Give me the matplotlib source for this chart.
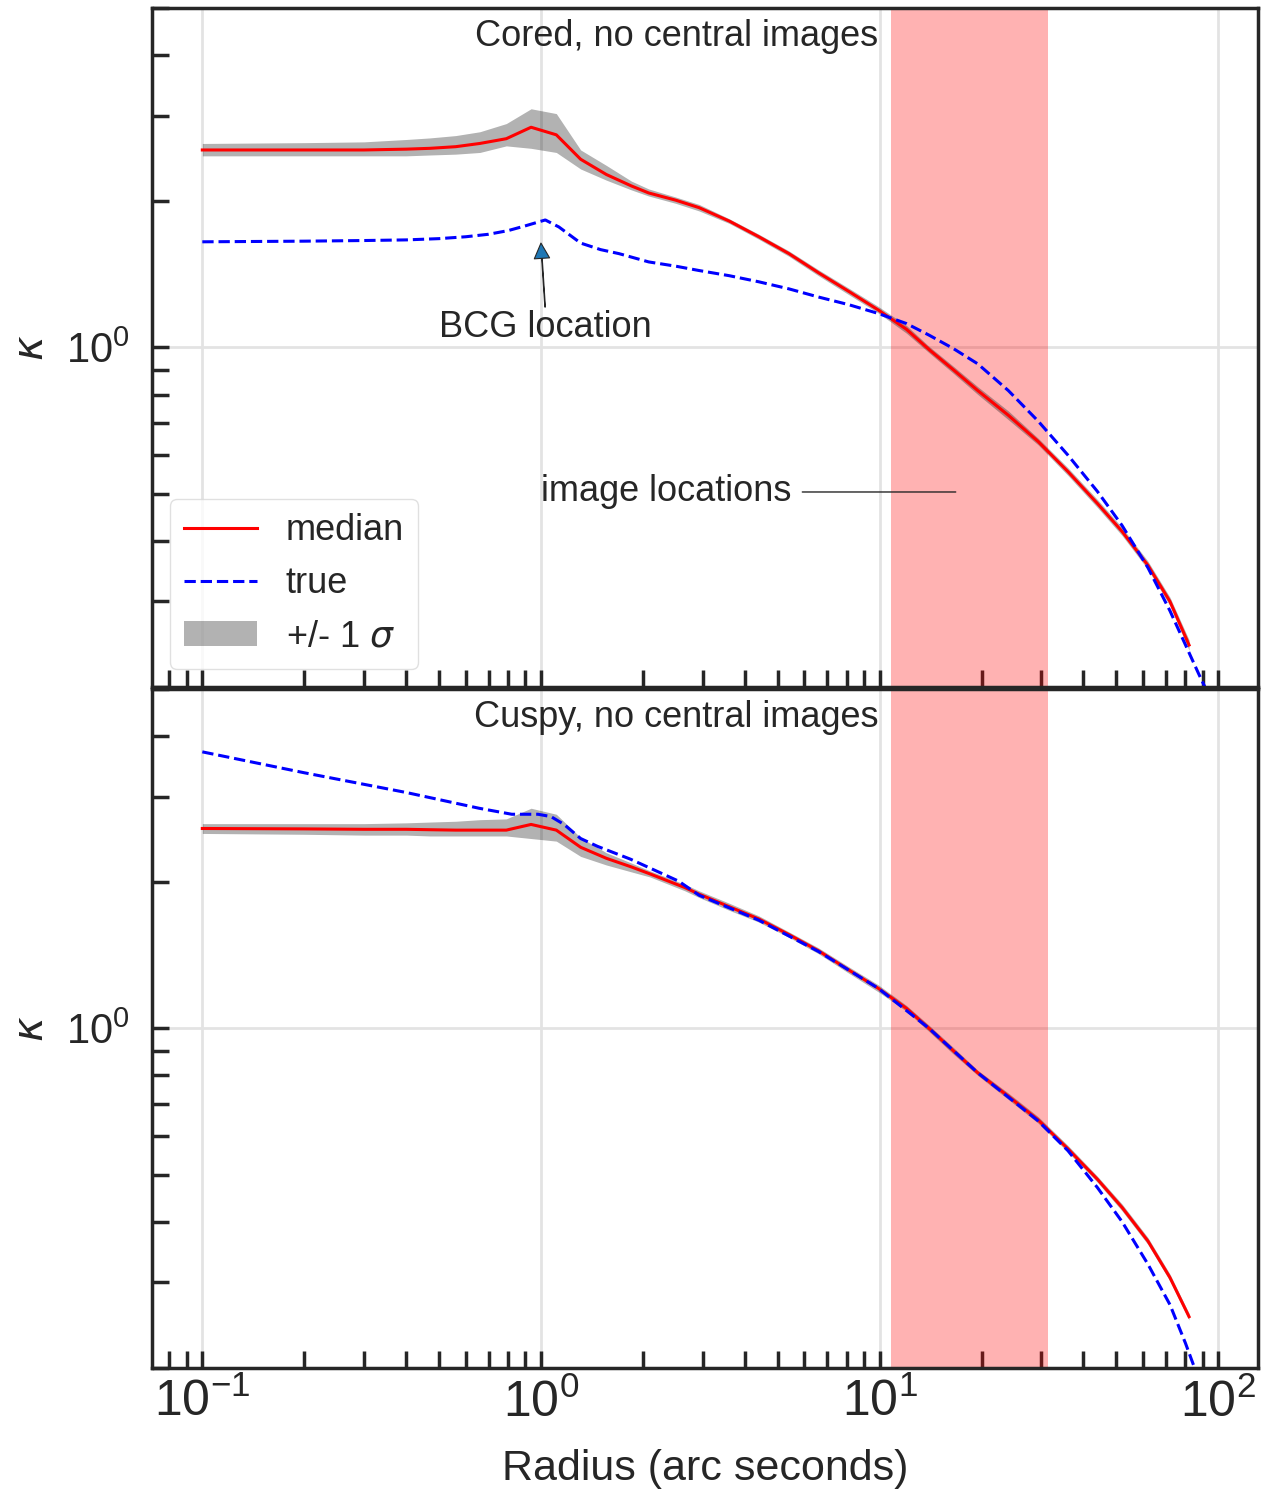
import matplotlib
matplotlib.use('Agg')
import matplotlib.pyplot as plt
from matplotlib.lines import Line2D
from matplotlib.patches import Patch

# ---------------- data ----------------
# Top panel: cored model
r_med_top = [0.1, 0.2, 0.3, 0.4, 0.47, 0.56, 0.66, 0.79, 0.935, 1.11, 1.31, 1.56, 1.85, 2.08,
             2.5, 2.93, 3.6, 4.4, 5.4, 6.6, 8.1, 9.9, 12, 14, 16.5, 19.5, 24, 29.4, 36, 44,
             52, 62, 72, 82]
k_med_top = [2.55, 2.55, 2.55, 2.56, 2.57, 2.59, 2.63, 2.69, 2.84, 2.74, 2.44, 2.27, 2.15, 2.08,
             2.01, 1.94, 1.82, 1.69, 1.56, 1.425, 1.305, 1.195, 1.09, 0.99, 0.90, 0.815, 0.725, 0.64,
             0.555, 0.477, 0.418, 0.356, 0.30, 0.244]
k_lo_top = [2.48, 2.48, 2.48, 2.48, 2.49, 2.50, 2.52, 2.60, 2.57, 2.52, 2.33, 2.21, 2.11, 2.05,
            1.98, 1.91, 1.80, 1.67, 1.54, 1.405, 1.285, 1.178, 1.07, 0.975, 0.885, 0.80, 0.71, 0.63,
            0.545, 0.468, 0.41, 0.349, 0.294, 0.238]
k_hi_top = [2.63, 2.64, 2.65, 2.68, 2.70, 2.73, 2.78, 2.89, 3.10, 3.03, 2.55, 2.37, 2.20, 2.12,
            2.04, 1.97, 1.84, 1.71, 1.58, 1.445, 1.325, 1.215, 1.11, 1.005, 0.915, 0.83, 0.74, 0.65,
            0.565, 0.486, 0.426, 0.363, 0.306, 0.25]
r_true_top = [0.1, 0.2, 0.3, 0.4, 0.5, 0.6, 0.7, 0.8, 0.9, 1.03, 1.13, 1.31, 1.5, 1.7, 2.08,
              2.5, 2.93, 3.6, 4.4, 5.4, 6.6, 8.1, 9.9, 12, 14, 16.5, 19.5, 24, 29.4, 36, 44,
              52, 62, 72, 87.5, 100]
k_true_top = [1.65, 1.655, 1.66, 1.665, 1.675, 1.69, 1.71, 1.74, 1.78, 1.83, 1.77, 1.64, 1.59,
              1.56, 1.50, 1.47, 1.44, 1.405, 1.365, 1.32, 1.27, 1.225, 1.175, 1.12, 1.06, 0.995,
              0.925, 0.815, 0.705, 0.60, 0.505, 0.43, 0.352, 0.287, 0.213, 0.175]

# Bottom panel: cuspy model
r_med_bot = [0.1, 0.2, 0.3, 0.4, 0.47, 0.56, 0.66, 0.79, 0.935, 1.11, 1.31, 1.56, 1.85, 2.1,
             2.66, 2.93, 3.6, 4.4, 5.4, 6.6, 8.1, 9.9, 12, 14, 16.5, 19.5, 24, 29.4, 36, 44,
             52, 62, 72, 82]
k_med_bot = [2.58, 2.575, 2.57, 2.57, 2.565, 2.56, 2.56, 2.56, 2.63, 2.56, 2.36, 2.24, 2.15, 2.08,
             1.95, 1.89, 1.78, 1.68, 1.56, 1.445, 1.32, 1.21, 1.10, 1.0, 0.90, 0.81, 0.725, 0.648,
             0.565, 0.489, 0.428, 0.365, 0.307, 0.255]
k_lo_bot = [2.52, 2.51, 2.50, 2.50, 2.49, 2.49, 2.49, 2.49, 2.46, 2.43, 2.26, 2.17, 2.10, 2.05,
            1.92, 1.86, 1.75, 1.655, 1.54, 1.425, 1.30, 1.19, 1.085, 0.985, 0.886, 0.80, 0.714, 0.638,
            0.556, 0.482, 0.421, 0.359, 0.302, 0.251]
k_hi_bot = [2.64, 2.64, 2.64, 2.65, 2.66, 2.67, 2.69, 2.70, 2.84, 2.76, 2.47, 2.30, 2.19, 2.11,
            1.98, 1.92, 1.81, 1.705, 1.58, 1.465, 1.34, 1.23, 1.115, 1.015, 0.914, 0.82, 0.736, 0.658,
            0.574, 0.496, 0.435, 0.371, 0.312, 0.259]
r_true_bot = [0.1, 0.2, 0.4, 0.656, 0.82, 0.98, 1.07, 1.17, 1.31, 1.47, 1.84, 2.55, 2.93, 4.4,
              6.6, 9.9, 14, 19.5, 29.4, 36, 44, 52, 62, 72, 80, 90, 100]
k_true_bot = [3.71, 3.36, 3.06, 2.84, 2.76, 2.76, 2.73, 2.63, 2.46, 2.37, 2.23, 2.01, 1.88, 1.67,
              1.44, 1.21, 1.0, 0.81, 0.645, 0.56, 0.47, 0.40, 0.327, 0.27, 0.225, 0.18, 0.145]

image_span = (10.8, 31.5)
titles = ["Cored, no central images", "Cuspy, no central images"]

# ---------------- style ----------------
dark = '#262626'
plt.rcParams.update({
    'font.family': ['Liberation Sans', 'DejaVu Sans'],
    'text.color': dark, 'axes.labelcolor': dark,
    'xtick.color': dark, 'ytick.color': dark,
    'axes.edgecolor': dark, 'axes.linewidth': 2.5,
    'axes.axisbelow': True,
    'grid.color': '#e3e3e3', 'grid.linewidth': 2.0,
    'legend.framealpha': 0.8, 'legend.edgecolor': '#d9d9d9',
})

fig = plt.figure(figsize=(12.62, 14.96), dpi=100)
ax1 = fig.add_axes([0.1204, 0.5408, 0.8764, 0.4539])
ax2 = fig.add_axes([0.1204, 0.0856, 0.8764, 0.4539], sharex=ax1)

panels = [
    (ax1, r_med_top, k_med_top, k_lo_top, k_hi_top, r_true_top, k_true_top, titles[0]),
    (ax2, r_med_bot, k_med_bot, k_lo_bot, k_hi_bot, r_true_bot, k_true_bot, titles[1]),
]

for ax, rm, km, klo, khi, rt, kt, title in panels:
    ax.set_xscale('log')
    ax.set_yscale('log')
    ax.axvspan(image_span[0], image_span[1], color='red', alpha=0.3, lw=0)
    ax.fill_between(rm, klo, khi, color='k', alpha=0.3, lw=0)
    ax.plot(rm, km, color='red', lw=2.2)
    ax.plot(rt, kt, color='blue', lw=2.2, ls='--')
    ax.set_xlim(0.071, 131)
    ax.set_ylim(0.2, 5)
    ax.grid(True, which='major')
    ax.tick_params(which='both', direction='in', length=12, width=2.5,
                   top=False, right=False, bottom=True, left=True)
    ax.tick_params(axis='y', labelsize=30, pad=16)
    ax.tick_params(axis='x', labelsize=36, pad=8)
    ax.set_ylabel(r'$\kappa$', fontsize=30, labelpad=10)
    ax.text(0.474, 0.958, title, transform=ax.transAxes, ha='center', va='center',
            fontsize=26)

ax1.tick_params(labelbottom=False)
ax2.set_xlabel('Radius (arc seconds)', fontsize=31, labelpad=16)

ax1.annotate('BCG location', xy=(1.0, 1.64), xytext=(1.03, 1.10),
             ha='center', va='center', fontsize=26,
             arrowprops=dict(facecolor='#1f77b4', edgecolor=dark, width=0.4,
                             headwidth=11, headlength=11, lw=0.8))
ax1.annotate('image locations', xy=(17.1, 0.504), xytext=(2.34, 0.504),
             ha='center', va='center', fontsize=26,
             arrowprops=dict(arrowstyle='-', color=dark, lw=1.0, shrinkA=6))

handles = [Line2D([], [], color='red', lw=2.2),
           Line2D([], [], color='blue', lw=2.2, ls='--'),
           Patch(facecolor='k', alpha=0.3, lw=0)]
ax1.legend(handles, ['median', 'true', r'+/- 1 $\sigma$'], loc='lower left', fontsize=26)

fig.savefig('out.png', dpi=100)
